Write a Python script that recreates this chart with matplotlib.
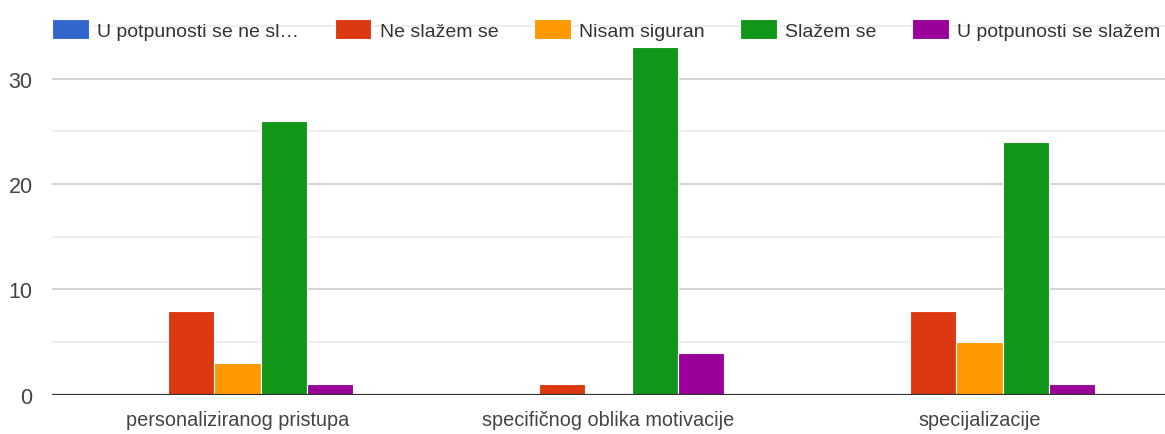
import matplotlib.pyplot as plt
import numpy as np
from matplotlib.ticker import MultipleLocator

categories = ['personaliziranog pristupa', 'specifičnog oblika motivacije', 'specijalizacije']
series = ['U potpunosti se ne sl…', 'Ne slažem se', 'Nisam siguran', 'Slažem se', 'U potpunosti se slažem']
values = [
    [0, 0, 0],
    [8, 1, 8],
    [3, 0, 5],
    [26, 33, 24],
    [1, 4, 1],
]
colors = ['#3366cc', '#dc3912', '#ff9900', '#109618', '#990099']

plt.rcParams['font.family'] = ['Liberation Sans', 'DejaVu Sans']

fig = plt.figure(figsize=(11.65, 4.35), dpi=100)
ax = fig.add_axes([0.0446, 0.090, 0.9554, 0.887])

x = np.arange(len(categories))
pitch = 0.125
for i, (name, vals, c) in enumerate(zip(series, values, colors)):
    ax.bar(x + (i - 2) * pitch, vals, width=pitch, color=c, edgecolor='white',
           linewidth=0.8, label=name, zorder=3)

ax.set_xlim(-0.5, 2.5)
ax.set_ylim(0, 36.6)
ax.yaxis.set_major_locator(MultipleLocator(10))
ax.yaxis.set_minor_locator(MultipleLocator(5))
ax.grid(axis='y', which='major', color='#cccccc', linewidth=1.2, zorder=0)
ax.grid(axis='y', which='minor', color='#ebebeb', linewidth=1.2, zorder=0)
ax.axhline(0, color='#333333', linewidth=1.6, zorder=4)

for s in ax.spines.values():
    s.set_visible(False)
ax.set_xticks(x)
ax.set_xticklabels(categories)
ax.tick_params(axis='both', which='both', length=0, colors='#444444')
ax.tick_params(axis='x', pad=11, labelsize=14.3)
ax.tick_params(axis='y', pad=14, labelsize=15.5)

leg = fig.legend(loc='center left', bbox_to_anchor=(52 / 1165, 1 - 30.5 / 435),
                 bbox_transform=fig.transFigure, ncol=5, frameon=False,
                 fontsize=14, handlelength=1.9, handleheight=1.18, handletextpad=0.42,
                 columnspacing=1.82, borderpad=0.0, borderaxespad=0.0)
for t in leg.get_texts():
    t.set_color('#333333')
for h in leg.legend_handles:
    h.set_edgecolor('white')

fig.savefig('out.png', dpi=100)
